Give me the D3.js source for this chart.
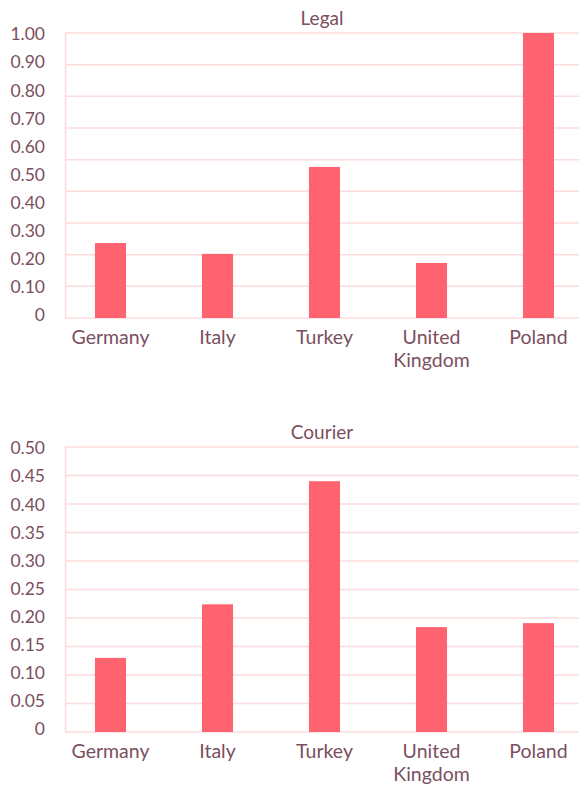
<!DOCTYPE html>
<html>
<head>
<meta charset="utf-8">
<script src="https://cdn.jsdelivr.net/npm/d3@7"></script>
<style>
    body { margin: 0; background: #fff; }
    text { font-family: Lato, "Open Sans", sans-serif; fill: #7b4f60; }
    .grid line { stroke: #fcdcdc; stroke-width: 1.5; }
    .grid path { display: none; }
</style>
</head>
<body>
<div id="chart"></div>
<script>
// 数据
const countries = ["Germany", "Italy", "Turkey", "United Kingdom", "Poland"];
const legalValues = [0.263, 0.225, 0.53, 0.193, 1.00];
const courierValues = [0.130, 0.224, 0.440, 0.184, 0.191];
const legalTicks = ["0", "0.10", "0.20", "0.30", "0.40", "0.50", "0.60", "0.70", "0.80", "0.90", "1.00"];
const courierTicks = ["0", "0.05", "0.10", "0.15", "0.20", "0.25", "0.30", "0.35", "0.40", "0.45", "0.50"];

// 图表尺寸
const width = 579, height = 785;
const plotLeft = 65, plotRight = 579;

const svg = d3.select("#chart").append("svg")
    .attr("width", width)
    .attr("height", height);

const x = d3.scaleBand()
    .domain(countries)
    .range([57, 592])
    .paddingInner(0.71)
    .paddingOuter(0.355);

// 绘制一个面板
const drawPanel = function (title, values, ticks, maxValue, top, bottom, gridCount) {
    const g = svg.append("g");

    const y = d3.scaleLinear()
        .domain([0, maxValue])
        .range([bottom, top]);

    // 辅助线
    const gridValues = d3.range(gridCount + 1).map(i => maxValue * i / gridCount);
    g.append("g")
        .attr("class", "grid")
        .selectAll("line")
        .data(gridValues)
        .enter()
        .append("line")
        .attr("x1", plotLeft)
        .attr("x2", plotRight)
        .attr("y1", d => y(d))
        .attr("y2", d => y(d));

    g.append("g")
        .attr("class", "grid")
        .append("line")
        .attr("x1", plotLeft + 0.5)
        .attr("x2", plotLeft + 0.5)
        .attr("y1", top)
        .attr("y2", bottom);

    // 纵轴文字
    const labelScale = d3.scaleLinear()
        .domain([0, ticks.length - 1])
        .range([bottom - 3, top + 1]);
    g.selectAll(".ytick")
        .data(ticks)
        .enter()
        .append("text")
        .attr("class", "ytick")
        .attr("x", 45)
        .attr("y", (d, i) => labelScale(i))
        .attr("dy", "0.36em")
        .attr("text-anchor", "end")
        .style("font-size", "17.5px")
        .text(d => d);

    // 柱形
    g.selectAll(".bar")
        .data(values)
        .enter()
        .append("rect")
        .attr("class", "bar")
        .attr("fill", "#ff636f")
        .attr("x", (d, i) => x(countries[i]))
        .attr("width", x.bandwidth())
        .attr("y", d => y(d))
        .attr("height", d => y(0) - y(d));

    // 横轴文字
    const xl = g.selectAll(".xlabel")
        .data(countries)
        .enter()
        .append("text")
        .attr("class", "xlabel")
        .attr("text-anchor", "middle")
        .attr("x", d => x(d) + x.bandwidth() / 2)
        .attr("y", bottom + 26)
        .style("font-size", "19.5px");
    xl.each(function (d) {
        const words = d === "United Kingdom" ? ["United", "Kingdom"] : [d];
        const t = d3.select(this);
        words.forEach(function (w, i) {
            t.append("tspan")
                .attr("x", x(d) + x.bandwidth() / 2)
                .attr("dy", i === 0 ? 0 : 23)
                .text(w);
        });
    });

    // 标题
    g.append("text")
        .attr("x", (plotLeft + plotRight) / 2)
        .attr("y", top - 8)
        .attr("text-anchor", "middle")
        .style("font-size", "19px")
        .text(title);
};

drawPanel("Legal", legalValues, legalTicks, 1.0, 33, 318, 9);
drawPanel("Courier", courierValues, courierTicks, 0.5, 447, 732, 10);
</script>
</body>
</html>
